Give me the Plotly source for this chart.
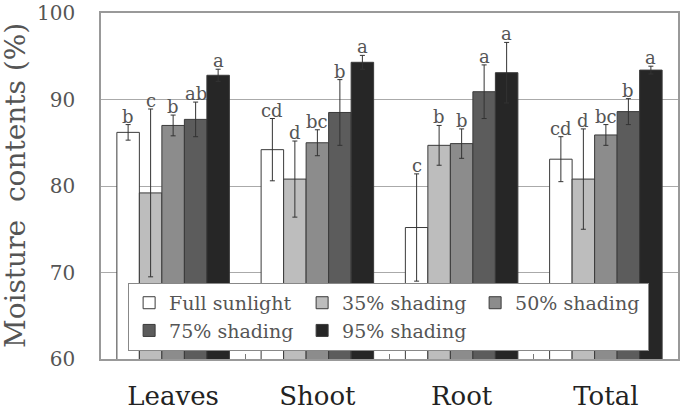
import plotly.graph_objects as go

categories = ["Leaves", "Shoot", "Root", "Total"]
series_names = ["Full sunlight", "35% shading", "50% shading", "75% shading", "95% shading"]
values = {
    "Full sunlight": [86.2, 84.2, 75.2, 83.1],
    "35% shading":   [79.2, 80.8, 84.7, 80.8],
    "50% shading":   [87.0, 85.0, 84.9, 85.9],
    "75% shading":   [87.7, 88.5, 90.9, 88.6],
    "95% shading":   [92.8, 94.3, 93.1, 93.4],
}
errors = {
    "Full sunlight": [0.9, 3.6, 6.2, 2.6],
    "35% shading":   [9.7, 4.4, 2.3, 5.8],
    "50% shading":   [1.2, 1.5, 1.7, 1.2],
    "75% shading":   [2.0, 3.8, 3.1, 1.5],
    "95% shading":   [0.7, 0.8, 3.5, 0.45],
}
letters = {
    "Full sunlight": ["b", "cd", "c", "cd"],
    "35% shading":   ["c", "d", "b", "d"],
    "50% shading":   ["b", "bc", "b", "bc"],
    "75% shading":   ["ab", "b", "a", "b"],
    "95% shading":   ["a", "a", "a", "a"],
}
colors = ["#ffffff", "#bdbdbd", "#8c8c8c", "#5c5c5c", "#262626"]
y_title = "Moisture  contents (%)"

SERIF = "DejaVu Serif, Liberation Serif, serif"
BARGAP = 0.22

fig = go.Figure()
for name, col in zip(series_names, colors):
    fig.add_trace(go.Bar(
        name=name, x=categories, y=values[name],
        marker=dict(color=col, line=dict(color="#3a3a3a", width=1)),
        error_y=dict(type="data", array=errors[name], color="#333333", thickness=1, width=2.5),
    ))

n = len(series_names)
w = (1 - BARGAP) / n
annotations = []
for si, name in enumerate(series_names):
    for ci, cat in enumerate(categories):
        annotations.append(dict(
            x=ci + (si - (n - 1) / 2) * w, y=values[name][ci] + errors[name][ci],
            xref="x", yref="y", text=letters[name][ci], showarrow=False,
            yanchor="bottom", yshift=-4,
            font=dict(family=SERIF, size=18, color="#555555"),
        ))
annotations.append(dict(
    text=y_title, xref="paper", yref="paper", x=0, y=0.5,
    xanchor="center", yanchor="middle", xshift=-86, textangle=-90,
    showarrow=False, font=dict(family=SERIF, size=28, color="#555555"),
))

fig.update_layout(
    width=685, height=414,
    margin=dict(l=101, r=7, t=13, b=55, autoexpand=False),
    paper_bgcolor="white", plot_bgcolor="white",
    barmode="group", bargap=BARGAP, bargroupgap=0,
    annotations=annotations,
    legend=dict(
        orientation="h", x=0.047, y=0.22, xanchor="left", yanchor="top",
        bgcolor="white", bordercolor="#888888", borderwidth=1,
        font=dict(family=SERIF, size=19, color="#555555"),
        entrywidth=128, entrywidthmode="pixels", tracegroupgap=0,
        itemwidth=30,
    ),
    xaxis=dict(
        automargin=False,
        showline=True, linecolor="#999999", mirror=True, linewidth=1.5,
        ticks="inside", tickson="boundaries", ticklen=5, tickcolor="#777777",
        tickfont=dict(family=SERIF, size=26, color="#222222"),
        ticklabelstandoff=13,
    ),
    yaxis=dict(
        automargin=False,
        range=[60, 100], tickvals=[60, 70, 80, 90, 100],
        showline=True, linecolor="#999999", mirror=True, linewidth=1.5,
        showgrid=True, gridcolor="#aaaaaa", gridwidth=1,
        ticks="", tickfont=dict(family=SERIF, size=20, color="#555555"),
        ticklabelstandoff=20, ticklabeloverflow="allow",
    ),
)

fig.write_html("out.html")
